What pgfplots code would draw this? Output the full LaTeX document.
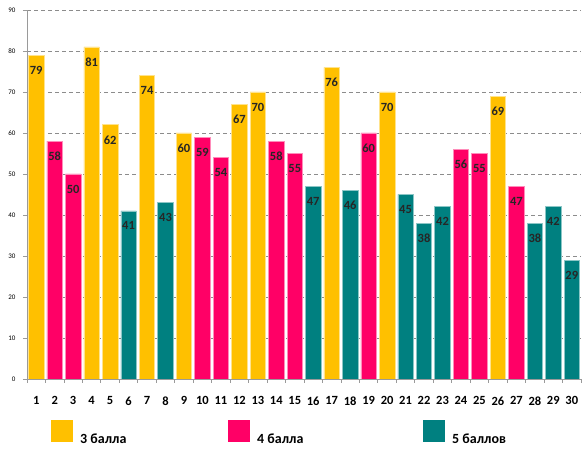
\documentclass[border=0pt]{standalone}
\usepackage{fontspec}
\setmainfont{Carlito}
\usepackage{pgfplots}
\pgfplotsset{compat=1.18}
\definecolor{c3}{HTML}{FFC000}
\definecolor{c4}{HTML}{FF0066}
\definecolor{c5}{HTML}{008080}
\definecolor{gridgray}{HTML}{8C8C8C}
\definecolor{axgray}{HTML}{9A9A9A}
\begin{document}
\begin{tikzpicture}
\begin{axis}[
  scale only axis, width=554bp, height=369bp,
  xmin=0.5, xmax=30.5, ymin=0, ymax=90,
  ybar, bar width=0.84, bar shift=0pt,
  axis x line*=bottom, axis y line*=left,
  axis line style={axgray, line width=0.8bp},
  xtick={0.5,1.5,...,30.5},
  x tick label as interval,
  xticklabels={1,2,3,4,5,6,7,8,9,10,11,12,13,14,15,16,17,18,19,20,21,22,23,24,25,26,27,28,29,30},
  ytick={0,10,...,90},
  tick align=outside, major tick length=4bp,
  tick style={axgray, line width=0.8bp},
  ymajorgrids,
  grid style={gridgray, dash pattern=on 4bp off 3bp, line width=0.8bp},
  /pgf/number format/assume math mode=true,
  xticklabel style={font=\bfseries\fontsize{12.5bp}{12.5bp}\selectfont, yshift=-10bp},
  yticklabel style={font=\fontsize{7bp}{7bp}\selectfont, xshift=-4bp},
  nodes near coords,
  nodes near coords style={font=\bfseries\fontsize{12.5bp}{12.5bp}\selectfont, text=black!85, anchor=center, yshift=-15bp},
  legend image code/.code={\fill[#1, draw=none] (0bp,-3bp) rectangle (22bp,19bp);},
  legend columns=3,
  legend style={at={(rel axis cs:0.0433,-0.1450)}, anchor=west, draw=none, fill=none,
    inner sep=0pt, nodes={inner sep=0pt, font=\bfseries\fontsize{14bp}{14bp}\selectfont}},
]
\addplot[fill=c3, draw=c3!45!white, line width=0.6bp] coordinates {
  (1,79) (4,81) (5,62) (7,74) (9,60) (12,67) (13,70) (17,76) (20,70) (26,69)};
\addlegendentry{\makebox[155bp][l]{\hspace{7bp}3 балла}}
\addplot[fill=c4, draw=c4!45!white, line width=0.6bp] coordinates {
  (2,58) (3,50) (10,59) (11,54) (14,58) (15,55) (19,60) (24,56) (25,55) (27,47)};
\addlegendentry{\makebox[173bp][l]{\hspace{7bp}4 балла}}
\addplot[fill=c5, draw=c5!45!white, line width=0.6bp] coordinates {
  (6,41) (8,43) (16,47) (18,46) (21,45) (22,38) (23,42) (28,38) (29,42) (30,29)};
\addlegendentry{\hspace{7bp}5 баллов}
\coordinate (sw) at (rel axis cs:0,0);
\coordinate (ne) at (rel axis cs:1,1);
\end{axis}
\pgfresetboundingbox
\path ([shift={(-27bp,-77bp)}]sw) rectangle ([shift={(6bp,10bp)}]ne);
\end{tikzpicture}
\end{document}
